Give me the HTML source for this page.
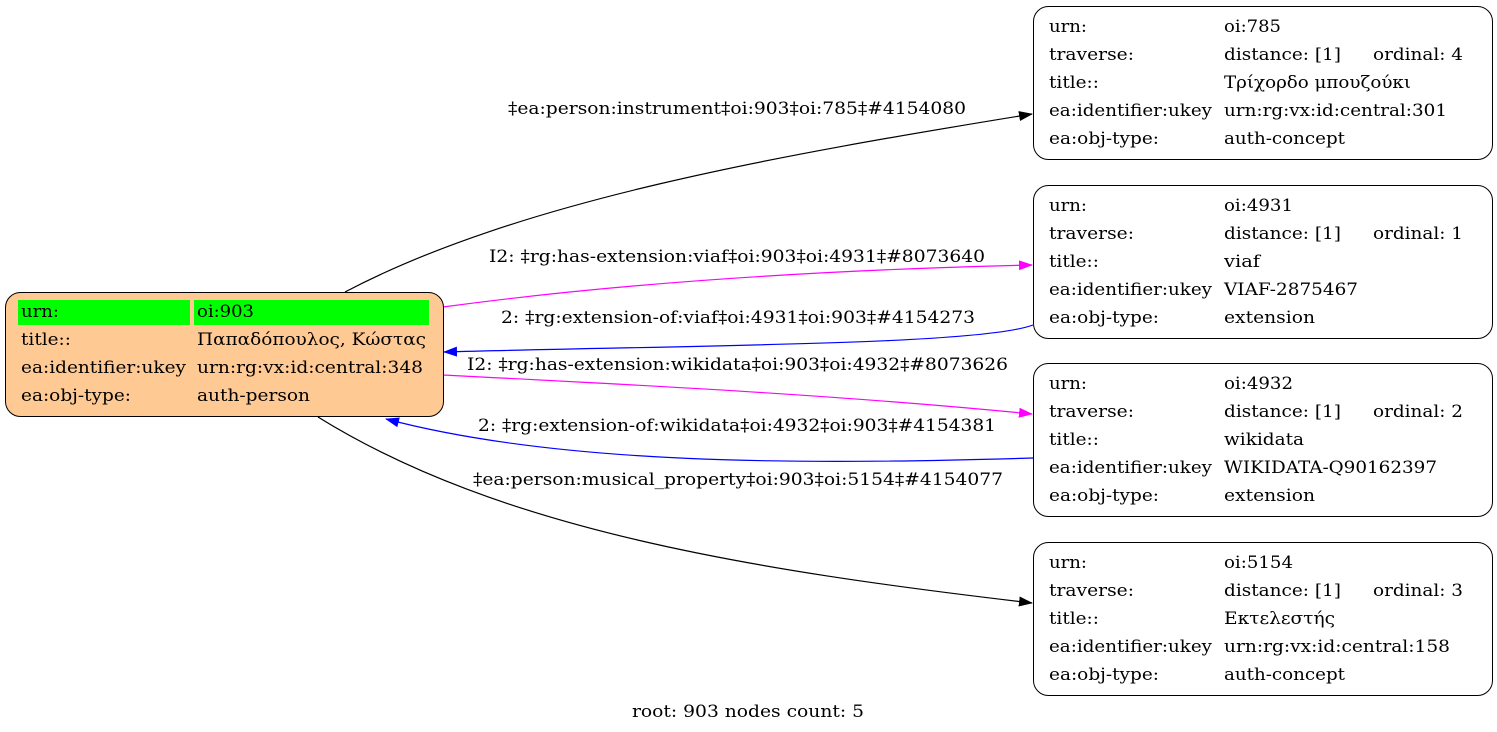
<!DOCTYPE html>
<html><head><meta charset="utf-8"><style>
html,body{margin:0;padding:0;background:#fff;}
svg{display:block;}
text{font-family:"DejaVu Serif","Liberation Serif",serif;font-size:17px;fill:#000;}
</style></head><body>
<svg width="1497" height="732" viewBox="0 0 1497 732" xmlns="http://www.w3.org/2000/svg">
<defs>
<marker id="ab" markerWidth="14" markerHeight="10" refX="13" refY="5" orient="auto" markerUnits="userSpaceOnUse"><path d="M0,0 L14,5 L0,10 z" fill="#000"/></marker>
<marker id="am" markerWidth="14" markerHeight="10" refX="13" refY="5" orient="auto" markerUnits="userSpaceOnUse"><path d="M0,0 L14,5 L0,10 z" fill="#ff00ff"/></marker>
<marker id="abl" markerWidth="14" markerHeight="10" refX="13" refY="5" orient="auto" markerUnits="userSpaceOnUse"><path d="M0,0 L14,5 L0,10 z" fill="#0000ff"/></marker>
</defs>

<path d="M345,292 C520,200 780,155 1032,114" fill="none" stroke="#000" stroke-width="1.2" marker-end="url(#ab)"/>
<path d="M443,307 C620,283 820,270 1032,265" fill="none" stroke="#ff00ff" stroke-width="1.2" marker-end="url(#am)"/>
<path d="M1033,325 C980,345 700,345 444,352" fill="none" stroke="#0000ff" stroke-width="1.2" marker-end="url(#abl)"/>
<path d="M443,375 C640,385 840,395 1032,414" fill="none" stroke="#ff00ff" stroke-width="1.2" marker-end="url(#am)"/>
<path d="M1033,458 C800,465 560,465 386,419" fill="none" stroke="#0000ff" stroke-width="1.2" marker-end="url(#abl)"/>
<path d="M318,417 C500,530 750,570 1032,603" fill="none" stroke="#000" stroke-width="1.2" marker-end="url(#ab)"/>

<text x="508" y="114" textLength="458" lengthAdjust="spacingAndGlyphs">‡ea:person:instrument‡oi:903‡oi:785‡#4154080</text>
<text x="489" y="262" textLength="496" lengthAdjust="spacingAndGlyphs">I2: ‡rg:has-extension:viaf‡oi:903‡oi:4931‡#8073640</text>
<text x="501" y="323" textLength="474" lengthAdjust="spacingAndGlyphs">2: ‡rg:extension-of:viaf‡oi:4931‡oi:903‡#4154273</text>
<text x="467" y="370" textLength="541" lengthAdjust="spacingAndGlyphs">I2: ‡rg:has-extension:wikidata‡oi:903‡oi:4932‡#8073626</text>
<text x="478" y="431" textLength="518" lengthAdjust="spacingAndGlyphs">2: ‡rg:extension-of:wikidata‡oi:4932‡oi:903‡#4154381</text>
<text x="473" y="485" textLength="530" lengthAdjust="spacingAndGlyphs">‡ea:person:musical_property‡oi:903‡oi:5154‡#4154077</text>

<rect x="5.5" y="292.5" width="438" height="124" rx="15" fill="#ffc993" stroke="#000" stroke-width="1"/>
<rect x="18" y="300" width="172" height="25" fill="#00ff00"/>
<rect x="194" y="300" width="235" height="25" fill="#00ff00"/>
<text x="21" y="317" textLength="38" lengthAdjust="spacingAndGlyphs">urn:</text><text x="197" y="317" textLength="57" lengthAdjust="spacingAndGlyphs">oi:903</text>
<text x="21" y="345" textLength="50" lengthAdjust="spacingAndGlyphs">title::</text><text x="197" y="345" textLength="229" lengthAdjust="spacingAndGlyphs">Παπαδόπουλος, Κώστας</text>
<text x="21" y="373" textLength="165" lengthAdjust="spacingAndGlyphs">ea:identifier:ukey</text><text x="197" y="373" textLength="226" lengthAdjust="spacingAndGlyphs">urn:rg:vx:id:central:348</text>
<text x="21" y="401" textLength="110" lengthAdjust="spacingAndGlyphs">ea:obj-type:</text><text x="197" y="401" textLength="113" lengthAdjust="spacingAndGlyphs">auth-person</text>

<rect x="1033.5" y="6.5" width="459" height="153" rx="15" fill="#fff" stroke="#000"/>
<text x="1049" y="32" textLength="38" lengthAdjust="spacingAndGlyphs">urn:</text><text x="1224" y="32" textLength="57" lengthAdjust="spacingAndGlyphs">oi:785</text>
<text x="1049" y="60" textLength="85" lengthAdjust="spacingAndGlyphs">traverse:</text><text x="1224" y="60" textLength="117" lengthAdjust="spacingAndGlyphs">distance: [1]</text><text x="1373" y="60" textLength="90" lengthAdjust="spacingAndGlyphs">ordinal: 4</text>
<text x="1049" y="88" textLength="50" lengthAdjust="spacingAndGlyphs">title::</text><text x="1224" y="88" textLength="187" lengthAdjust="spacingAndGlyphs">Τρίχορδο μπουζούκι</text>
<text x="1049" y="116" textLength="163" lengthAdjust="spacingAndGlyphs">ea:identifier:ukey</text><text x="1224" y="116" textLength="223" lengthAdjust="spacingAndGlyphs">urn:rg:vx:id:central:301</text>
<text x="1049" y="144" textLength="110" lengthAdjust="spacingAndGlyphs">ea:obj-type:</text><text x="1224" y="144" textLength="121" lengthAdjust="spacingAndGlyphs">auth-concept</text>

<rect x="1033.5" y="185.5" width="459" height="153" rx="15" fill="#fff" stroke="#000"/>
<text x="1049" y="211" textLength="38" lengthAdjust="spacingAndGlyphs">urn:</text><text x="1224" y="211" textLength="69" lengthAdjust="spacingAndGlyphs">oi:4931</text>
<text x="1049" y="239" textLength="85" lengthAdjust="spacingAndGlyphs">traverse:</text><text x="1224" y="239" textLength="117" lengthAdjust="spacingAndGlyphs">distance: [1]</text><text x="1373" y="239" textLength="90" lengthAdjust="spacingAndGlyphs">ordinal: 1</text>
<text x="1049" y="267" textLength="50" lengthAdjust="spacingAndGlyphs">title::</text><text x="1224" y="267" textLength="36" lengthAdjust="spacingAndGlyphs">viaf</text>
<text x="1049" y="295" textLength="163" lengthAdjust="spacingAndGlyphs">ea:identifier:ukey</text><text x="1224" y="295" textLength="134" lengthAdjust="spacingAndGlyphs">VIAF-2875467</text>
<text x="1049" y="323" textLength="110" lengthAdjust="spacingAndGlyphs">ea:obj-type:</text><text x="1224" y="323" textLength="91" lengthAdjust="spacingAndGlyphs">extension</text>

<rect x="1033.5" y="363.5" width="459" height="153" rx="15" fill="#fff" stroke="#000"/>
<text x="1049" y="389" textLength="38" lengthAdjust="spacingAndGlyphs">urn:</text><text x="1224" y="389" textLength="69" lengthAdjust="spacingAndGlyphs">oi:4932</text>
<text x="1049" y="417" textLength="85" lengthAdjust="spacingAndGlyphs">traverse:</text><text x="1224" y="417" textLength="117" lengthAdjust="spacingAndGlyphs">distance: [1]</text><text x="1373" y="417" textLength="90" lengthAdjust="spacingAndGlyphs">ordinal: 2</text>
<text x="1049" y="445" textLength="50" lengthAdjust="spacingAndGlyphs">title::</text><text x="1224" y="445" textLength="80" lengthAdjust="spacingAndGlyphs">wikidata</text>
<text x="1049" y="473" textLength="163" lengthAdjust="spacingAndGlyphs">ea:identifier:ukey</text><text x="1224" y="473" textLength="213" lengthAdjust="spacingAndGlyphs">WIKIDATA-Q90162397</text>
<text x="1049" y="501" textLength="110" lengthAdjust="spacingAndGlyphs">ea:obj-type:</text><text x="1224" y="501" textLength="91" lengthAdjust="spacingAndGlyphs">extension</text>

<rect x="1033.5" y="542.5" width="459" height="153" rx="15" fill="#fff" stroke="#000"/>
<text x="1049" y="568" textLength="38" lengthAdjust="spacingAndGlyphs">urn:</text><text x="1224" y="568" textLength="69" lengthAdjust="spacingAndGlyphs">oi:5154</text>
<text x="1049" y="596" textLength="85" lengthAdjust="spacingAndGlyphs">traverse:</text><text x="1224" y="596" textLength="117" lengthAdjust="spacingAndGlyphs">distance: [1]</text><text x="1373" y="596" textLength="90" lengthAdjust="spacingAndGlyphs">ordinal: 3</text>
<text x="1049" y="624" textLength="50" lengthAdjust="spacingAndGlyphs">title::</text><text x="1224" y="624" textLength="111" lengthAdjust="spacingAndGlyphs">Εκτελεστής</text>
<text x="1049" y="652" textLength="163" lengthAdjust="spacingAndGlyphs">ea:identifier:ukey</text><text x="1224" y="652" textLength="226" lengthAdjust="spacingAndGlyphs">urn:rg:vx:id:central:158</text>
<text x="1049" y="680" textLength="110" lengthAdjust="spacingAndGlyphs">ea:obj-type:</text><text x="1224" y="680" textLength="121" lengthAdjust="spacingAndGlyphs">auth-concept</text>

<text x="632" y="717" textLength="232" lengthAdjust="spacingAndGlyphs">root: 903 nodes count: 5</text>
</svg>
</body></html>
